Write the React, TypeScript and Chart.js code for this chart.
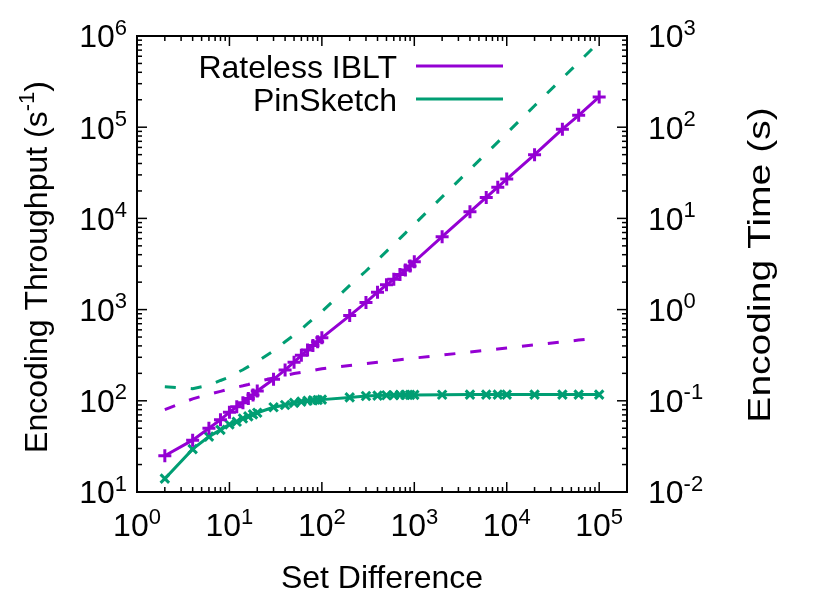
import React, { useEffect, useRef } from 'react';
import { Chart, registerables } from 'chart.js';

Chart.register(...registerables);

// ---------- data ----------
const setDifference = [2, 4, 6, 8, 10, 12, 14, 16, 18, 20, 30, 40, 50, 60, 70, 80, 90, 100, 200, 300, 400, 500, 600, 700, 800, 900, 1000, 2000, 4000, 6000, 8000, 10000, 20000, 40000, 60000, 100000];

const ratelessThroughput = [25, 37, 50, 62, 75, 86, 95, 106, 116, 128, 172, 218, 265, 315, 360, 405, 445, 490, 860, 1200, 1550, 1870, 2150, 2420, 2720, 3000, 3350, 6300, 11800, 17000, 22000, 27000, 50000, 95000, 135000, 215000];

const pinsketchThroughput = [14, 29.5, 40.5, 48, 55, 59, 64, 67.5, 71, 74, 85, 90, 95, 98, 100, 101, 102, 103, 109, 113, 114, 115, 115, 116, 116, 116, 116, 116.5, 117, 117, 117, 117, 117, 117, 117, 117];

const ratelessTime = [0.080, 0.105, 0.118, 0.127, 0.135, 0.141, 0.146, 0.151, 0.157, 0.162, 0.178, 0.190, 0.199, 0.205, 0.210, 0.215, 0.220, 0.225, 0.244, 0.255, 0.264, 0.271, 0.277, 0.282, 0.286, 0.290, 0.294, 0.317, 0.343, 0.358, 0.370, 0.380, 0.410, 0.443, 0.463, 0.490];

const pinsketchTime = [0.143, 0.136, 0.148, 0.167, 0.182, 0.203, 0.219, 0.237, 0.254, 0.270, 0.353, 0.444, 0.526, 0.612, 0.70, 0.79, 0.88, 0.95, 1.84, 2.65, 3.5, 4.35, 5.2, 6.05, 6.9, 7.8, 8.6, 17.2, 34.5, 51.5, 68.5, 86, 172, 344, 516, 860];

const xTickValues = [1, 10, 100, 1000, 10000, 100000];
const xTickExponents = ['0', '1', '2', '3', '4', '5'];
const yTickValues = [10, 100, 1000, 10000, 100000, 1000000];
const yTickExponents = ['1', '2', '3', '4', '5', '6'];
const y2TickValues = [0.01, 0.1, 1, 10, 100, 1000];
const y2TickExponents = ['-2', '-1', '0', '1', '2', '3'];

const seriesLabels = ['Rateless IBLT', 'PinSketch'];
const xTitle = 'Set Difference';
const yTitleMain = 'Encoding Throughput (s';
const yTitleSup = '-1';
const yTitleEnd = ')';
const y2Title = 'Encoding Time (s)';

// ---------- style ----------
const PURPLE = '#9400d3';
const GREEN = '#009e73';
const FONT = '"Liberation Sans", Arial, Helvetica, sans-serif';
const F = 32;
const S = 22;
const MAJOR = 10;
const MINOR = 5;

function minorValues(min: number, max: number): number[] {
  const out: number[] = [];
  const e0 = Math.floor(Math.log10(min));
  const e1 = Math.ceil(Math.log10(max));
  for (let e = e0; e <= e1; e++) {
    for (let m = 2; m <= 9; m++) {
      const v = m * Math.pow(10, e);
      if (v > min * 1.0001 && v < max * 0.9999) out.push(v);
    }
  }
  return out;
}

function drawPow(ctx: CanvasRenderingContext2D, exp: string, x: number, yCenter: number, align: 'left' | 'right' | 'center') {
  ctx.font = `${F}px ${FONT}`;
  const wb = ctx.measureText('10').width;
  ctx.font = `${S}px ${FONT}`;
  const we = ctx.measureText(exp).width;
  const total = wb + we;
  const left = align === 'right' ? x - total : align === 'center' ? x - total / 2 : x;
  const base = yCenter + 0.358 * F;
  ctx.textAlign = 'left';
  ctx.textBaseline = 'alphabetic';
  ctx.font = `${F}px ${FONT}`;
  ctx.fillText('10', left, base);
  ctx.font = `${S}px ${FONT}`;
  ctx.fillText(exp, left + wb, base - 0.4 * F);
}

const gnuplotPlugin = {
  id: 'gnuplotAxes',
  beforeDatasetsDraw(chart: any) {
    const { ctx, chartArea: a, scales } = chart;
    ctx.save();
    ctx.strokeStyle = '#000';
    ctx.lineWidth = 1.5;
    const seg = (x1: number, y1: number, x2: number, y2: number) => {
      ctx.beginPath();
      ctx.moveTo(x1, y1);
      ctx.lineTo(x2, y2);
      ctx.stroke();
    };
    const xs = scales.x, ys = scales.y, y2s = scales.y2;
    xTickValues.forEach((v) => {
      const p = xs.getPixelForValue(v);
      seg(p, a.bottom, p, a.bottom - MAJOR);
      seg(p, a.top, p, a.top + MAJOR);
    });
    minorValues(xs.min, xs.max).forEach((v) => {
      const p = xs.getPixelForValue(v);
      seg(p, a.bottom, p, a.bottom - MINOR);
      seg(p, a.top, p, a.top + MINOR);
    });
    yTickValues.forEach((v) => {
      const p = ys.getPixelForValue(v);
      seg(a.left, p, a.left + MAJOR, p);
    });
    minorValues(ys.min, ys.max).forEach((v) => {
      const p = ys.getPixelForValue(v);
      seg(a.left, p, a.left + MINOR, p);
    });
    y2TickValues.forEach((v) => {
      const p = y2s.getPixelForValue(v);
      seg(a.right, p, a.right - MAJOR, p);
    });
    minorValues(y2s.min, y2s.max).forEach((v) => {
      const p = y2s.getPixelForValue(v);
      seg(a.right, p, a.right - MINOR, p);
    });
    ctx.lineWidth = 2;
    ctx.strokeRect(a.left, a.top, a.right - a.left, a.bottom - a.top);
    ctx.restore();
  },
  afterDraw(chart: any) {
    const { ctx, chartArea: a, scales } = chart;
    ctx.save();
    ctx.fillStyle = '#000';
    xTickValues.forEach((v, i) => drawPow(ctx, xTickExponents[i], scales.x.getPixelForValue(v), a.bottom + 33, 'center'));
    yTickValues.forEach((v, i) => drawPow(ctx, yTickExponents[i], a.left - 10, scales.y.getPixelForValue(v), 'right'));
    y2TickValues.forEach((v, i) => drawPow(ctx, y2TickExponents[i], a.right + 21, scales.y2.getPixelForValue(v), 'left'));

    // x title
    ctx.font = `${F}px ${FONT}`;
    ctx.textAlign = 'center';
    ctx.textBaseline = 'alphabetic';
    ctx.fillText(xTitle, (a.left + a.right) / 2, 588);

    // left y title (with superscript)
    ctx.save();
    ctx.translate(47, (a.top + a.bottom) / 2 + 3);
    ctx.rotate(-Math.PI / 2);
    ctx.font = `${F}px ${FONT}`;
    const w1 = ctx.measureText(yTitleMain).width;
    ctx.font = `${S}px ${FONT}`;
    const w2 = ctx.measureText(yTitleSup).width;
    ctx.font = `${F}px ${FONT}`;
    const w3 = ctx.measureText(yTitleEnd).width;
    let sx = -(w1 + w2 + w3) / 2;
    ctx.textAlign = 'left';
    ctx.fillText(yTitleMain, sx, 0);
    sx += w1;
    ctx.font = `${S}px ${FONT}`;
    ctx.fillText(yTitleSup, sx, -0.4 * F);
    sx += w2;
    ctx.font = `${F}px ${FONT}`;
    ctx.fillText(yTitleEnd, sx, 0);
    ctx.restore();

    // right y title (rendered wider in the reference)
    ctx.save();
    ctx.translate(770, (a.top + a.bottom) / 2 + 1);
    ctx.rotate(-Math.PI / 2);
    ctx.scale(1.22, 1);
    ctx.font = `${F}px ${FONT}`;
    ctx.textAlign = 'center';
    ctx.fillText(y2Title, 0, 0);
    ctx.restore();

    // legend
    const colors = [PURPLE, GREEN];
    const rowsY = [66, 99];
    seriesLabels.forEach((lab, i) => {
      ctx.font = `${F}px ${FONT}`;
      ctx.textAlign = 'right';
      ctx.textBaseline = 'alphabetic';
      ctx.fillStyle = '#000';
      ctx.fillText(lab, 397, rowsY[i] + 11.5);
      ctx.strokeStyle = colors[i];
      ctx.lineWidth = 3;
      ctx.beginPath();
      ctx.moveTo(416, rowsY[i]);
      ctx.lineTo(503, rowsY[i]);
      ctx.stroke();
    });
    ctx.restore();
  },
};

export default function App() {
  const canvasRef = useRef<HTMLCanvasElement | null>(null);

  useEffect(() => {
    const canvas = canvasRef.current;
    if (!canvas) return;
    const pts = (ys: number[]) => setDifference.map((x, i) => ({ x, y: ys[i] }));
    const chart = new Chart(canvas, {
      type: 'line',
      data: {
        datasets: [
          {
            label: seriesLabels[0],
            data: pts(ratelessThroughput),
            yAxisID: 'y',
            borderColor: PURPLE,
            backgroundColor: PURPLE,
            borderWidth: 3,
            pointStyle: 'cross',
            pointRadius: 6.5,
            pointBorderWidth: 3,
            pointBorderColor: PURPLE,
            fill: false,
            tension: 0,
          },
          {
            label: seriesLabels[1],
            data: pts(pinsketchThroughput),
            yAxisID: 'y',
            borderColor: GREEN,
            backgroundColor: GREEN,
            borderWidth: 3,
            pointStyle: 'crossRot',
            pointRadius: 6,
            pointBorderWidth: 3,
            pointBorderColor: GREEN,
            fill: false,
            tension: 0,
          },
          {
            label: seriesLabels[0] + ' time',
            data: pts(ratelessTime),
            yAxisID: 'y2',
            borderColor: PURPLE,
            borderWidth: 3,
            borderDash: [11, 15],
            pointRadius: 0,
            fill: false,
            tension: 0,
          },
          {
            label: seriesLabels[1] + ' time',
            data: pts(pinsketchTime),
            yAxisID: 'y2',
            borderColor: GREEN,
            borderWidth: 3,
            borderDash: [11, 15],
            pointRadius: 0,
            fill: false,
            tension: 0,
          },
        ],
      },
      options: {
        animation: false,
        responsive: false,
        devicePixelRatio: 1,
        events: [],
        layout: { padding: { left: 137, right: 203, top: 36, bottom: 109 } },
        plugins: { legend: { display: false }, tooltip: { enabled: false } },
        scales: {
          x: { type: 'logarithmic', min: 1, max: 200000, display: false },
          y: { type: 'logarithmic', position: 'left', min: 10, max: 1000000, display: false },
          y2: { type: 'logarithmic', position: 'right', min: 0.01, max: 1000, display: false },
        },
      },
      plugins: [gnuplotPlugin],
    } as any);
    return () => chart.destroy();
  }, []);

  return (
    <div style={{ position: 'absolute', left: 0, top: 0, width: 830, height: 601, background: '#fff' }}>
      <canvas ref={canvasRef} width={830} height={601} style={{ width: 830, height: 601, display: 'block' }} />
    </div>
  );
}
